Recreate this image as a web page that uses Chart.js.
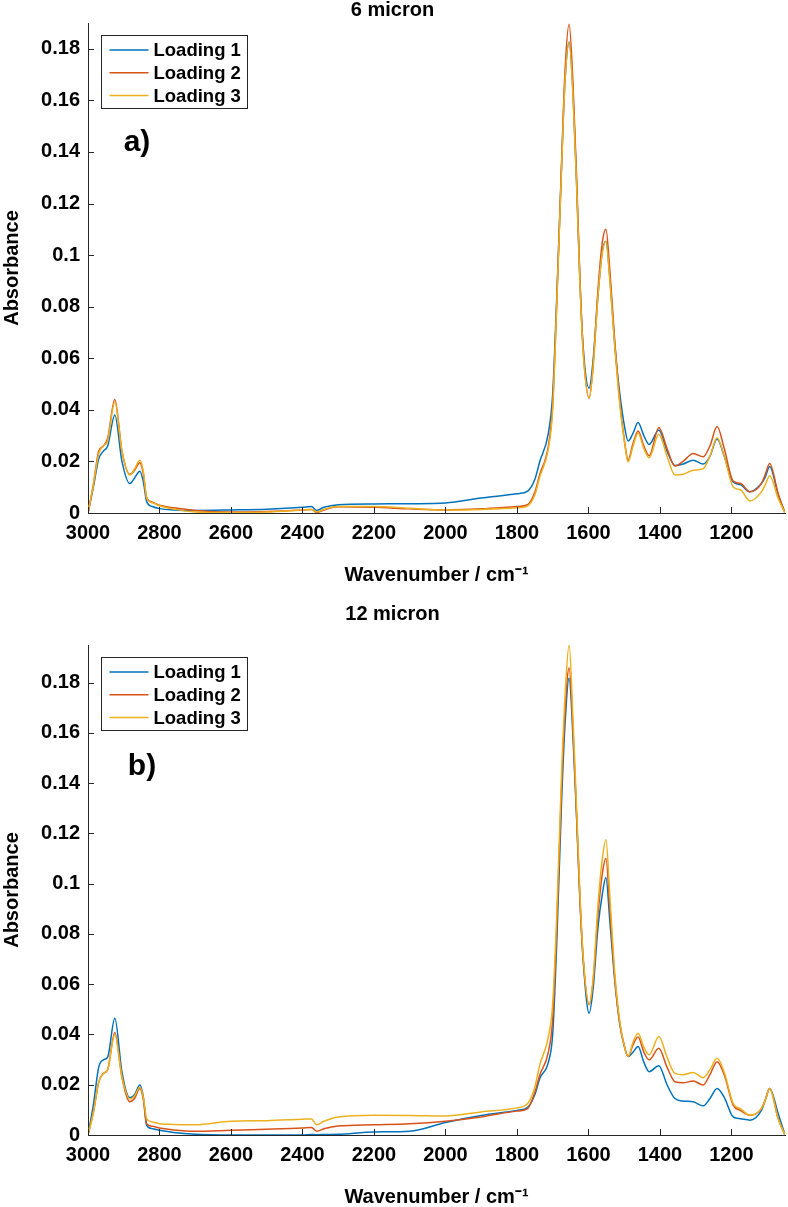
<!DOCTYPE html>
<html>
<head>
<meta charset="utf-8">
<script src="https://cdn.jsdelivr.net/npm/chart.js@4.4.0/dist/chart.umd.min.js"></script>
<style>
    body { margin: 0; background: #fff; }
    #panelA { position: absolute; left: 0; top: 0; width: 788px; height: 600px; }
    #panelB { position: absolute; left: 0; top: 600px; width: 788px; height: 607px; }
</style>
</head>
<body>
<div id="panelA"><canvas id="chartA"></canvas></div>
<div id="panelB"><canvas id="chartB"></canvas></div>
<script>
// Wavenumber grid (cm-1) shared by every series
const wavenumbers = [
    3000, 2985, 2970, 2957, 2945, 2925, 2905, 2883, 2870, 2855, 2845, 2836,
    2820, 2800, 2760, 2700, 2600, 2500, 2400, 2375, 2360, 2340, 2300, 2200,
    2100, 2000, 1900, 1800, 1770, 1750, 1736, 1712, 1700, 1689, 1675, 1666,
    1654, 1643, 1633, 1624, 1615, 1598, 1587, 1573, 1561, 1551, 1540, 1526,
    1512, 1498, 1489, 1475, 1461, 1445, 1430, 1403, 1380, 1358, 1335, 1307,
    1279, 1260, 1240, 1220, 1195, 1175, 1148, 1116, 1105, 1093, 1069, 1050
];

// a) 6 micron
const micron6Loading1 = [
    0, 0.010, 0.021, 0.024, 0.026, 0.038, 0.020, 0.0114, 0.0135, 0.0162, 0.012, 0.0045,
    0.0025, 0.0017, 0.0012, 0.001, 0.0012, 0.0015, 0.0022, 0.0025, 0.001, 0.0022, 0.0032, 0.0035,
    0.0036, 0.0039, 0.0058, 0.0075, 0.0085, 0.013, 0.020, 0.031, 0.046, 0.082, 0.135, 0.166,
    0.1826, 0.1625, 0.1275, 0.091, 0.065, 0.0484, 0.059, 0.0847, 0.1015, 0.1054, 0.091, 0.065,
    0.046, 0.0328, 0.0279, 0.031, 0.0351, 0.030, 0.0266, 0.0322, 0.024, 0.0184, 0.019, 0.0205,
    0.019, 0.022, 0.0287, 0.022, 0.012, 0.011, 0.0082, 0.0114, 0.014, 0.018, 0.007, 0
];
const micron6Loading2 = [
    0, 0.011, 0.024, 0.026, 0.029, 0.044, 0.024, 0.015, 0.0165, 0.0195, 0.015, 0.006,
    0.0042, 0.003, 0.002, 0.001, 0.0004, 0.0006, 0.0012, 0.0014, 0.0002, 0.0012, 0.0024, 0.0022,
    0.0016, 0.0012, 0.0016, 0.0025, 0.0032, 0.008, 0.015, 0.026, 0.042, 0.080, 0.136, 0.170,
    0.1895, 0.166, 0.130, 0.092, 0.064, 0.0445, 0.057, 0.087, 0.105, 0.110, 0.094, 0.066,
    0.043, 0.027, 0.0205, 0.027, 0.0318, 0.026, 0.0222, 0.0332, 0.025, 0.0182, 0.020, 0.0231,
    0.0218, 0.026, 0.0335, 0.025, 0.0124, 0.0115, 0.0082, 0.0114, 0.015, 0.0192, 0.0075, 0
];
const micron6Loading3 = [
    0, 0.011, 0.023, 0.026, 0.028, 0.043, 0.024, 0.0147, 0.017, 0.0205, 0.016, 0.0058,
    0.004, 0.0028, 0.0015, 0.0004, 0.0002, 0.0004, 0.0012, 0.0014, 0.0004, 0.0014, 0.0025, 0.0025,
    0.0018, 0.0012, 0.0014, 0.002, 0.0028, 0.007, 0.014, 0.025, 0.040, 0.079, 0.134, 0.166,
    0.1826, 0.161, 0.127, 0.090, 0.063, 0.0445, 0.056, 0.0845, 0.101, 0.1054, 0.090, 0.064,
    0.042, 0.0264, 0.0198, 0.026, 0.031, 0.025, 0.0214, 0.0305, 0.022, 0.0147, 0.015, 0.0166,
    0.0172, 0.022, 0.0292, 0.022, 0.0101, 0.009, 0.0047, 0.0082, 0.011, 0.0144, 0.0056, 0
];

// b) 12 micron
const micron12Loading1 = [
    0, 0.012, 0.027, 0.0299, 0.031, 0.0465, 0.025, 0.0148, 0.016, 0.0199, 0.015, 0.0039,
    0.0025, 0.0019, 0.001, 0.0003, 0, 0, 0, 0.0002, 0.0001, 0.0002, 0.0003, 0.0012,
    0.0015, 0.005, 0.0078, 0.0098, 0.011, 0.016, 0.0225, 0.029, 0.040, 0.075, 0.133, 0.162,
    0.1819, 0.158, 0.1265, 0.0945, 0.0705, 0.0485, 0.058, 0.083, 0.096, 0.1025, 0.085, 0.061,
    0.044, 0.0345, 0.0312, 0.033, 0.0352, 0.029, 0.0252, 0.0276, 0.020, 0.0145, 0.0135, 0.0132,
    0.0116, 0.0145, 0.0185, 0.015, 0.0072, 0.0065, 0.0059, 0.0098, 0.014, 0.0185, 0.0085, 0
];
const micron12Loading2 = [
    0, 0.009, 0.021, 0.0245, 0.026, 0.0408, 0.023, 0.0132, 0.0145, 0.0185, 0.014, 0.0045,
    0.0035, 0.0028, 0.002, 0.0015, 0.0019, 0.0023, 0.0028, 0.003, 0.0015, 0.0025, 0.0036, 0.0041,
    0.0045, 0.0055, 0.0072, 0.0095, 0.0105, 0.017, 0.0239, 0.033, 0.046, 0.081, 0.139, 0.167,
    0.1859, 0.161, 0.1265, 0.0945, 0.0705, 0.0519, 0.061, 0.088, 0.104, 0.110, 0.090, 0.062,
    0.044, 0.0345, 0.0312, 0.036, 0.039, 0.033, 0.0299, 0.0345, 0.027, 0.0212, 0.0208, 0.0215,
    0.0199, 0.024, 0.0292, 0.024, 0.0119, 0.0098, 0.0079, 0.0105, 0.014, 0.0185, 0.0065, 0
];
const micron12Loading3 = [
    0, 0.009, 0.021, 0.0245, 0.026, 0.040, 0.023, 0.0143, 0.0155, 0.019, 0.015, 0.0065,
    0.0052, 0.0045, 0.0042, 0.0041, 0.0055, 0.0057, 0.0063, 0.0064, 0.0041, 0.0055, 0.0072, 0.0079,
    0.0078, 0.0076, 0.0092, 0.0108, 0.0125, 0.019, 0.0279, 0.039, 0.052, 0.086, 0.144, 0.173,
    0.195, 0.165, 0.130, 0.097, 0.072, 0.0519, 0.062, 0.092, 0.110, 0.1175, 0.095, 0.064,
    0.045, 0.0345, 0.0312, 0.037, 0.0405, 0.035, 0.0319, 0.0392, 0.031, 0.0245, 0.024, 0.0249,
    0.0228, 0.026, 0.0305, 0.025, 0.0125, 0.0105, 0.0079, 0.0105, 0.014, 0.0185, 0.0065, 0
];

const seriesNames = ['Loading 1', 'Loading 2', 'Loading 3'];
const xTicks = [3000, 2800, 2600, 2400, 2200, 2000, 1800, 1600, 1400, 1200];
const yTicks = [0, 0.02, 0.04, 0.06, 0.08, 0.1, 0.12, 0.14, 0.16, 0.18];

// MATLAB default line colours
const seriesColors = ['#0072BD', '#D95319', '#EDB120'];
const axisColor = '#262626';
const fontFamily = "'Liberation Sans', Arial, sans-serif";

// Tick marks pointing into the plot area
const inwardTicks = {
    id: 'inwardTicks',
    afterDatasetsDraw(chart) {
        const ctx = chart.ctx, area = chart.chartArea;
        const xs = chart.scales.x, ys = chart.scales.y;
        ctx.save();
        ctx.strokeStyle = axisColor;
        ctx.lineWidth = 1;
        ctx.beginPath();
        xs.ticks.forEach(t => {
            const px = Math.round(xs.getPixelForValue(t.value)) + 0.5;
            ctx.moveTo(px, area.bottom);
            ctx.lineTo(px, area.bottom - 6);
        });
        ys.ticks.forEach(t => {
            const py = Math.round(ys.getPixelForValue(t.value)) + 0.5;
            ctx.moveTo(area.left, py);
            ctx.lineTo(area.left + 6, py);
        });
        ctx.stroke();
        ctx.restore();
    }
};

// Boxed legend in the upper left corner of the plot, plus the panel letter
const insideLegend = {
    id: 'insideLegend',
    afterDraw(chart, args, opts) {
        const ctx = chart.ctx, area = chart.chartArea;
        const bx = area.left + 13.5, by = area.top + 12.5;
        ctx.save();
        ctx.fillStyle = '#fff';
        ctx.fillRect(bx, by, 146, 73);
        ctx.strokeStyle = axisColor;
        ctx.lineWidth = 1;
        ctx.strokeRect(bx, by, 146, 73);
        ctx.font = 'bold 18.5px ' + fontFamily;
        ctx.textBaseline = 'middle';
        ctx.textAlign = 'left';
        chart.data.datasets.forEach((ds, i) => {
            const ry = by + 14.5 + i * 22.8;
            ctx.strokeStyle = ds.borderColor;
            ctx.lineWidth = 1.5;
            ctx.beginPath();
            ctx.moveTo(bx + 8, ry);
            ctx.lineTo(bx + 47, ry);
            ctx.stroke();
            ctx.fillStyle = '#000';
            ctx.fillText(ds.label, bx + 52, ry + 1);
        });
        ctx.font = 'bold 30px ' + fontFamily;
        ctx.textAlign = 'center';
        ctx.fillText(opts.text, area.left + opts.dx, area.top + opts.dy);
        ctx.restore();
    }
};

function makeChart(canvasId, title, series, yMax, letter, pads) {
    const ctx = document.getElementById(canvasId).getContext('2d');
    return new Chart(ctx, {
        type: 'line',
        data: {
            datasets: series.map((vals, i) => ({
                label: seriesNames[i],
                data: wavenumbers.map((w, j) => ({ x: w, y: vals[j] })),
                borderColor: seriesColors[i],
                borderWidth: 1.5,
                pointRadius: 0,
                fill: false,
                cubicInterpolationMode: 'monotone',
                order: 3 - i
            }))
        },
        options: {
            responsive: true,
            maintainAspectRatio: false,
            animation: false,
            layout: { padding: { left: 0, right: 3, top: 0, bottom: pads.bottom } },
            plugins: {
                legend: { display: false },
                tooltip: { enabled: false },
                title: {
                    display: true,
                    text: title,
                    color: '#000',
                    font: { family: fontFamily, size: 20, weight: 'bold', lineHeight: 1 },
                    padding: { top: pads.titleTop, bottom: pads.titleBottom }
                },
                insideLegend: letter
            },
            scales: {
                x: {
                    type: 'linear',
                    reverse: true,
                    min: 1050,
                    max: 3000,
                    afterBuildTicks: s => { s.ticks = xTicks.map(v => ({ value: v })); },
                    grid: { display: false, drawTicks: false },
                    border: { display: true, color: axisColor, width: 1 },
                    ticks: {
                        color: '#000',
                        padding: 8,
                        maxRotation: 0,
                        font: { family: fontFamily, size: 20, weight: 'bold', lineHeight: 1.2 },
                        callback: v => String(v)
                    },
                    title: {
                        display: true,
                        text: 'Wavenumber / cm\u207B\u00B9',
                        color: '#000',
                        font: { family: fontFamily, size: 20, weight: 'bold', lineHeight: 1 },
                        padding: { top: pads.axisTitleTop, bottom: 0 }
                    }
                },
                y: {
                    min: 0,
                    max: yMax,
                    afterBuildTicks: s => { s.ticks = yTicks.map(v => ({ value: v })); },
                    afterFit: s => { s.width = 88; },
                    grid: { display: false, drawTicks: false },
                    border: { display: true, color: axisColor, width: 1 },
                    ticks: {
                        color: '#000',
                        padding: 8,
                        font: { family: fontFamily, size: 20, weight: 'bold', lineHeight: 1.2 },
                        callback: v => String(Number(v.toFixed(2)))
                    },
                    title: {
                        display: true,
                        text: 'Absorbance',
                        color: '#000',
                        font: { family: fontFamily, size: 20, weight: 'bold', lineHeight: 1.2 },
                        padding: 0
                    }
                }
            }
        },
        plugins: [inwardTicks, insideLegend]
    });
}

makeChart('chartA', '6 micron',
    [micron6Loading1, micron6Loading2, micron6Loading3], 0.19,
    { text: 'a)', dx: 49, dy: 120 },
    { bottom: 15, titleTop: 0, titleBottom: 3, axisTitleTop: 12 });

makeChart('chartB', '12 micron',
    [micron12Loading1, micron12Loading2, micron12Loading3], 0.195,
    { text: 'b)', dx: 54, dy: 122 },
    { bottom: 0, titleTop: 4, titleBottom: 21, axisTitleTop: 12 });
</script>
</body>
</html>
